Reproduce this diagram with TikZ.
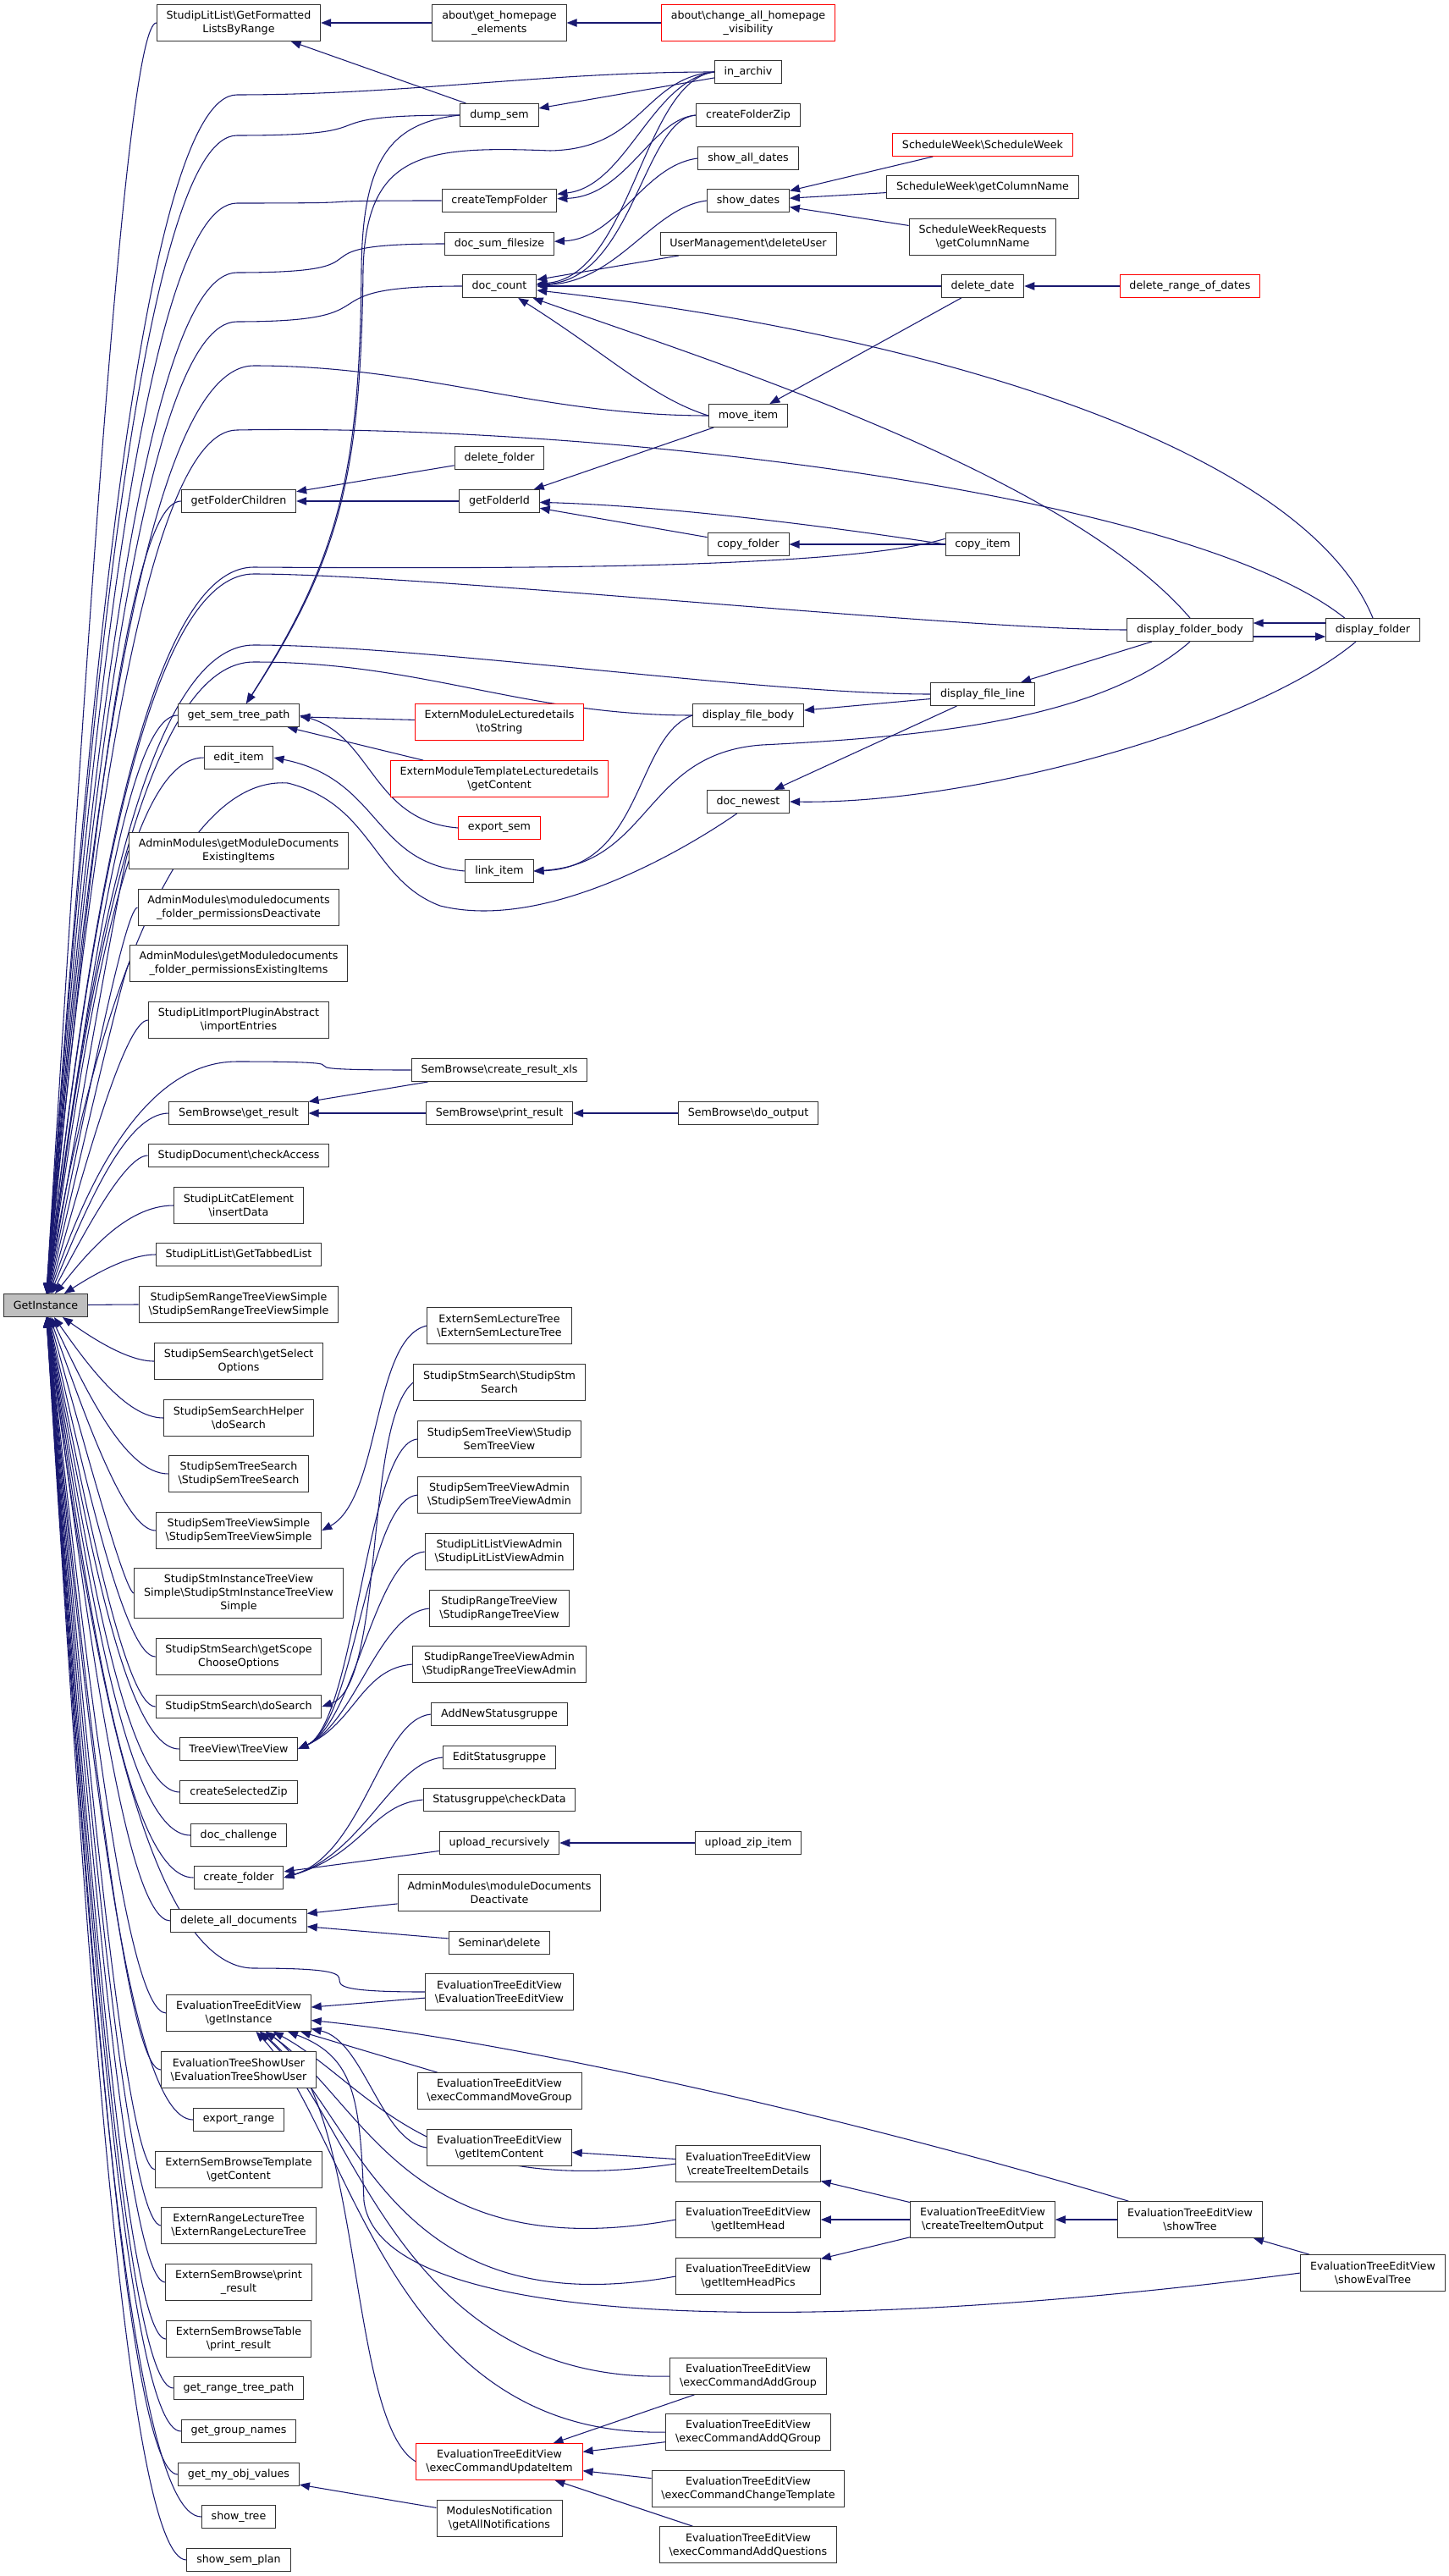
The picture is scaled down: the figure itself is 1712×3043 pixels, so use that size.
\documentclass[tikz,border=0pt]{standalone}
\usepackage{fontspec}
\setmainfont{DejaVu Sans}
\usetikzlibrary{arrows.meta,calc}
\pgfdeclarelayer{bg}
\pgfsetlayers{bg,main}
\definecolor{edgeblue}{HTML}{191970}
\definecolor{boxgray}{HTML}{BFBFBF}
\definecolor{boxline}{HTML}{333333}
\newcommand{\bk}{\textbackslash}
\tikzset{every picture/.style={line width=0.75pt}}
\tikzset{
  fn/.style={draw=boxline, fill=white, align=center, inner xsep=8.5pt, inner ysep=1pt,
    minimum height=20.25pt, font=\fontsize{9.5}{12}\selectfont},
  fnii/.style={fn, minimum height=32pt},
  fniii/.style={fn, minimum height=44.25pt},
  hot/.style={draw=red},
  call/.style={draw=edgeblue, line width=0.8pt, -{Triangle[length=9pt,width=7pt]}, edgeblue}
}

\begin{document}
\begin{tikzpicture}[x=0.75pt,y=0.75pt,yscale=-1,xscale=1]
\useasboundingbox (0,0) rectangle (1712,3043);
\coordinate (bx) at (148,0);

% GetInstance
\node[fn, fill=boxgray] (gi) at (54,1542) {GetInstance};

% Column 1
\node[fnii] (litfmt) at (282,27) {StudipLitList\bk GetFormatted\\ListsByRange};
\node[fn] (folderchildren) at (282,592) {getFolderChildren};
\node[fn] (semtreepath) at (282,845) {get\_sem\_tree\_path};
\node[fn] (edititem) at (282,895) {edit\_item};
\node[fnii] (amdocexist) at (282,1005) {AdminModules\bk getModuleDocuments\\ExistingItems};
\node[fnii] (amfolderdeact) at (282,1072) {AdminModules\bk moduledocuments\\\_folder\_permissionsDeactivate};
\node[fnii] (amfolderexist) at (282,1138) {AdminModules\bk getModuledocuments\\\_folder\_permissionsExistingItems};
\node[fnii] (litimport) at (282,1205) {StudipLitImportPluginAbstract\\\bk importEntries};
\node[fn] (getresult) at (282,1315) {SemBrowse\bk get\_result};
\node[fn] (checkaccess) at (282,1365) {StudipDocument\bk checkAccess};
\node[fnii] (litcat) at (282,1424) {StudipLitCatElement\\\bk insertData};
\node[fn] (littabbed) at (282,1482) {StudipLitList\bk GetTabbedList};
\node[fnii] (rangesimple) at (282,1541) {StudipSemRangeTreeViewSimple\\\bk StudipSemRangeTreeViewSimple};
\node[fnii] (selectopt) at (282,1608) {StudipSemSearch\bk getSelect\\Options};
\node[fnii] (searchhelper) at (282,1675) {StudipSemSearchHelper\\\bk doSearch};
\node[fnii] (treesearch) at (282,1741) {StudipSemTreeSearch\\\bk StudipSemTreeSearch};
\node[fnii] (treesimple) at (282,1808) {StudipSemTreeViewSimple\\\bk StudipSemTreeViewSimple};
\node[fniii] (stminstance) at (282,1882) {StudipStmInstanceTreeView\\Simple\bk StudipStmInstanceTreeView\\Simple};
\node[fnii] (scopeopt) at (282,1957) {StudipStmSearch\bk getScope\\ChooseOptions};
\node[fn] (stmdosearch) at (282,2016) {StudipStmSearch\bk doSearch};
\node[fn] (treeview) at (282,2066) {TreeView\bk TreeView};
\node[fn] (selzip) at (282,2117) {createSelectedZip};
\node[fn] (docchallenge) at (282,2168) {doc\_challenge};
\node[fn] (createfolder) at (282,2218) {create\_folder};
\node[fn] (delalldocs) at (282,2269) {delete\_all\_documents};
\node[fnii] (evalinst) at (282,2378) {EvaluationTreeEditView\\\bk getInstance};
\node[fnii] (evalshowuser) at (282,2445) {EvaluationTreeShowUser\\\bk EvaluationTreeShowUser};
\node[fn] (exportrange) at (282,2504) {export\_range};
\node[fnii] (browsetpl) at (282,2563) {ExternSemBrowseTemplate\\\bk getContent};
\node[fnii] (rangelecture) at (282,2629) {ExternRangeLectureTree\\\bk ExternRangeLectureTree};
\node[fnii] (browseprint) at (282,2696) {ExternSemBrowse\bk print\\\_result};
\node[fnii] (browsetable) at (282,2763) {ExternSemBrowseTable\\\bk print\_result};
\node[fn] (rangetreepath) at (282,2821) {get\_range\_tree\_path};
\node[fn] (groupnames) at (282,2872) {get\_group\_names};
\node[fn] (myobjvalues) at (282,2923) {get\_my\_obj\_values};
\node[fn] (showtreefn) at (282,2973) {show\_tree};
\node[fn] (semplan) at (282,3024) {show\_sem\_plan};

% Column 2
\node[fnii] (homepage) at (590,27) {about\bk get\_homepage\\\_elements};
\node[fn] (dumpsem) at (590,136) {dump\_sem};
\node[fn] (tempfolder) at (590,237) {createTempFolder};
\node[fn] (sumfilesize) at (590,288) {doc\_sum\_filesize};
\node[fn] (doccount) at (590,338) {doc\_count};
\node[fn] (deletefolder) at (590,541) {delete\_folder};
\node[fn] (folderid) at (590,592) {getFolderId};
\node[fnii, hot] (lecturestring) at (590,853) {ExternModuleLecturedetails\\\bk toString};
\node[fnii, hot] (templatecontent) at (590,920) {ExternModuleTemplateLecturedetails\\\bk getContent};
\node[fn, hot] (exportsem) at (590,978) {export\_sem};
\node[fn] (linkitem) at (590,1029) {link\_item};
\node[fn] (resultxls) at (590,1264) {SemBrowse\bk create\_result\_xls};
\node[fn] (printresult) at (590,1315) {SemBrowse\bk print\_result};
\node[fnii] (lecturetree) at (590,1566) {ExternSemLectureTree\\\bk ExternSemLectureTree};
\node[fnii] (stmsearch) at (590,1633) {StudipStmSearch\bk StudipStm\\Search};
\node[fnii] (semtreeview) at (590,1700) {StudipSemTreeView\bk Studip\\SemTreeView};
\node[fnii] (semtreeadmin) at (590,1766) {StudipSemTreeViewAdmin\\\bk StudipSemTreeViewAdmin};
\node[fnii] (litlistadmin) at (590,1833) {StudipLitListViewAdmin\\\bk StudipLitListViewAdmin};
\node[fnii] (rangetreeview) at (590,1900) {StudipRangeTreeView\\\bk StudipRangeTreeView};
\node[fnii] (rangetreeadmin) at (590,1966) {StudipRangeTreeViewAdmin\\\bk StudipRangeTreeViewAdmin};
\node[fn] (addstatus) at (590,2025) {AddNewStatusgruppe};
\node[fn] (editstatus) at (590,2076) {EditStatusgruppe};
\node[fn] (checkdata) at (590,2126) {Statusgruppe\bk checkData};
\node[fn] (uploadrec) at (590,2177) {upload\_recursively};
\node[fnii] (moddocdeact) at (590,2236) {AdminModules\bk moduleDocuments\\Deactivate};
\node[fn] (seminardel) at (590,2295) {Seminar\bk delete};
\node[fnii] (evalctor) at (590,2353) {EvaluationTreeEditView\\\bk EvaluationTreeEditView};
\node[fnii] (movegroup) at (590,2470) {EvaluationTreeEditView\\\bk execCommandMoveGroup};
\node[fnii] (itemcontent) at (590,2537) {EvaluationTreeEditView\\\bk getItemContent};
\node[fnii, hot] (updateitem) at (590,2908) {EvaluationTreeEditView\\\bk execCommandUpdateItem};
\node[fnii] (notifications) at (590,2975) {ModulesNotification\\\bk getAllNotifications};

% Column 3
\node[fnii, hot] (changevis) at (884,27) {about\bk change\_all\_homepage\\\_visibility};
\node[fn] (inarchiv) at (884,85) {in\_archiv};
\node[fn] (folderzip) at (884,136) {createFolderZip};
\node[fn] (alldates) at (884,187) {show\_all\_dates};
\node[fn] (showdates) at (884,237) {show\_dates};
\node[fn] (deleteuser) at (884,288) {UserManagement\bk deleteUser};
\node[fn] (moveitem) at (884,491) {move\_item};
\node[fn] (copyfolder) at (884,643) {copy\_folder};
\node[fn] (filebody) at (884,845) {display\_file\_body};
\node[fn] (docnewest) at (884,947) {doc\_newest};
\node[fn] (dooutput) at (884,1315) {SemBrowse\bk do\_output};
\node[fn] (zipitem) at (884,2177) {upload\_zip\_item};
\node[fnii] (itemdetails) at (884,2556) {EvaluationTreeEditView\\\bk createTreeItemDetails};
\node[fnii] (itemhead) at (884,2622) {EvaluationTreeEditView\\\bk getItemHead};
\node[fnii] (itemheadpics) at (884,2689) {EvaluationTreeEditView\\\bk getItemHeadPics};
\node[fnii] (addgroup) at (884,2807) {EvaluationTreeEditView\\\bk execCommandAddGroup};
\node[fnii] (addqgroup) at (884,2873) {EvaluationTreeEditView\\\bk execCommandAddQGroup};
\node[fnii] (changetpl) at (884,2940) {EvaluationTreeEditView\\\bk execCommandChangeTemplate};
\node[fnii] (addquestions) at (884,3006) {EvaluationTreeEditView\\\bk execCommandAddQuestions};

% Column 4
\node[fn, hot] (schedweek) at (1161,171) {ScheduleWeek\bk ScheduleWeek};
\node[fn] (colname) at (1161,221) {ScheduleWeek\bk getColumnName};
\node[fnii] (reqcolname) at (1161,280) {ScheduleWeekRequests\\\bk getColumnName};
\node[fn] (deletedate) at (1161,338) {delete\_date};
\node[fn] (copyitem) at (1161,643) {copy\_item};
\node[fn] (fileline) at (1161,820) {display\_file\_line};
\node[fnii] (itemoutput) at (1161,2622) {EvaluationTreeEditView\\\bk createTreeItemOutput};

% Column 5 and 6
\node[fn, hot] (rangedates) at (1406,338) {delete\_range\_of\_dates};
\node[fn] (folderbody) at (1406,744) {display\_folder\_body};
\node[fnii] (showtree) at (1406,2622) {EvaluationTreeEditView\\\bk showTree};
\node[fn] (displayfolder) at (1622,744) {display\_folder};
\node[fnii] (evaltree) at (1622,2685) {EvaluationTreeEditView\\\bk showEvalTree};

\begin{pgfonlayer}{bg}
% calls of GetInstance from column 1
\foreach \n in {litfmt,folderchildren,semtreepath,edititem,amdocexist,
  amfolderdeact,amfolderexist,litimport,getresult,checkaccess,litcat,littabbed,rangesimple,
  selectopt,searchhelper,treesearch,treesimple,stminstance,scopeopt,stmdosearch,treeview,selzip,
  docchallenge,createfolder,delalldocs,evalinst,evalshowuser,exportrange,browsetpl,
  rangelecture,browseprint,browsetable,rangetreepath,groupnames,myobjvalues,showtreefn,semplan}
  \draw[call] (\n) .. controls (\n.west -| bx) and ($(gi)!0.5!(\n.west -| bx)$) .. (gi);

% calls of GetInstance from further right, through the gaps of column 1
\foreach \n/\wx/\wy in {inarchiv/280/112,dumpsem/280/160,tempfolder/280/240,sumfilesize/280/322,
  doccount/280/380,moveitem/300/432,folderbody/300/678,fileline/300/762,filebody/300/782,
  resultxls/280/1254,evalctor/300/2325}
  \draw[call] (\n.west) .. controls ($(\n.west)+(-200,0)$) and ({\wx+200},\wy) .. (\wx,\wy)
    .. controls (170,\wy) and ($(gi)!0.5!(150,\wy)$) .. (gi);
\draw[call] ([xshift=-25pt]displayfolder.north) .. controls (1400,580) and (700,500) .. (280,508)
  .. controls (170,508) and ($(gi)!0.5!(150,508)$) .. (gi);
\draw[call] ([yshift=-5pt]copyitem.west) .. controls (1000,672) and (600,672) .. (300,670)
  .. controls (170,670) and ($(gi)!0.5!(150,670)$) .. (gi);
\draw[call] ([xshift=-10pt]docnewest.south) .. controls (800,1010) and (640,1100) .. (520,1070)
  .. controls (440,1040) and (440,950) .. (340,925) .. controls (200,915) and ($(gi)!0.5!(150,925)$) .. (gi);

% straight calls
\draw[call] (homepage) -- (litfmt);
\draw[call] (changevis) -- (homepage);
\draw[call] (dumpsem) -- (litfmt);
\draw[call] (inarchiv) -- (dumpsem);
\draw[call] (deleteuser) -- (doccount);
\draw[call] (deletedate) -- (doccount);
\draw[call] (rangedates) -- (deletedate);
\draw[call] (schedweek) -- (showdates);
\draw[call] (colname) -- (showdates);
\draw[call] (reqcolname) -- (showdates);
\draw[call] (deletedate) -- (moveitem);
\draw[call] (moveitem) -- (folderid);
\draw[call] (copyfolder) -- (folderid);
\draw[call] (copyitem) -- (copyfolder);
\draw[call] (folderid) -- (folderchildren);
\draw[call] (deletefolder) -- (folderchildren);
\draw[call] (folderbody) -- (fileline);
\draw[call] (fileline) -- (filebody);
\draw[call] (fileline) -- (docnewest);
\draw[call] (lecturestring) -- (semtreepath);
\draw[call] (templatecontent) -- (semtreepath);
\draw[call] (resultxls) -- (getresult);
\draw[call] (printresult) -- (getresult);
\draw[call] (dooutput) -- (printresult);
\draw[call] (zipitem) -- (uploadrec);
\draw[call] (uploadrec) -- (createfolder);
\draw[call] (moddocdeact) -- (delalldocs);
\draw[call] (seminardel) -- (delalldocs);
\draw[call] (evalctor) -- (evalinst);
\draw[call] (movegroup) -- (evalinst);
\draw[call] (itemdetails) -- (itemcontent);
\draw[call] (itemoutput) -- (itemdetails);
\draw[call] (itemoutput) -- (itemhead);
\draw[call] (itemoutput) -- (itemheadpics);
\draw[call] (showtree) -- (itemoutput);
\draw[call] (evaltree) -- (showtree);
\draw[call] (addgroup) -- (updateitem);
\draw[call] (addqgroup) -- (updateitem);
\draw[call] (changetpl) -- (updateitem);
\draw[call] (addquestions) -- (updateitem);
\draw[call] (notifications) -- (myobjvalues);
\draw[call] ([yshift=6pt]folderbody.east) -- ([yshift=6pt]displayfolder.west);
\draw[call] ([yshift=-6pt]displayfolder.west) -- ([yshift=-6pt]folderbody.east);

% curved calls, top part
\draw[call] (inarchiv.west) .. controls (770,95) and (740,220) .. (tempfolder);
\draw[call] (folderzip.west) .. controls (770,140) and (740,232) .. (tempfolder);
\draw[call] (inarchiv.west) .. controls (760,95) and (745,328) .. (doccount);
\draw[call] (folderzip.west) .. controls (760,140) and (748,331) .. (doccount);
\draw[call] (showdates.west) .. controls (770,245) and (730,334) .. (doccount);
\draw[call] (alldates.west) .. controls (760,195) and (730,282) .. (sumfilesize);
\draw[call] (moveitem.west) .. controls (770,470) and (720,420) .. (doccount);
\draw[call] (folderbody.north) .. controls (1260,560) and (850,430) .. (doccount);
\draw[call] (displayfolder.north) .. controls (1540,530) and (1100,395) .. (doccount);
\draw[call] (copyitem.west) .. controls (1000,625) and (800,598) .. (folderid);
\draw[call] (dumpsem.west) .. controls (460,145) and (428,190) .. (427,320)
  .. controls (425,560) and (400,660) .. (semtreepath);
\draw[call] (inarchiv.west) .. controls (760,92) and (760,176) .. (650,178)
  .. controls (500,172) and (432,180) .. (429,320) .. controls (426,560) and (402,660) .. (semtreepath);

% curved calls, middle part
\draw[call] ([xshift=-15pt]displayfolder.south) .. controls (1480,860) and (1150,950) .. (docnewest.east);
\draw[call] (filebody.west) .. controls (750,870) and (760,1025) .. (linkitem.east);
\draw[call] (folderbody.south) .. controls (1300,850) and (1100,870) .. (900,880)
  .. controls (760,890) and (770,1020) .. (linkitem.east);
\draw[call] (linkitem.west) .. controls (440,1020) and (450,920) .. (edititem.east);
\draw[call] (exportsem.west) .. controls (440,970) and (440,870) .. (semtreepath.east);
\draw[call] (lecturetree.west) .. controls (440,1580) and (450,1770) .. (treesimple.east);
\draw[call] (stmsearch.west) .. controls (430,1680) and (455,1990) .. (stmdosearch.east);
\foreach \n in {semtreeview,semtreeadmin,litlistadmin,rangetreeview,rangetreeadmin}
  \draw[call] (\n.west) .. controls +(-60,5) and (420,2035) .. (treeview.east);
\foreach \n in {addstatus,editstatus,checkdata}
  \draw[call] (\n.west) .. controls +(-60,5) and (430,2190) .. (createfolder.east);

% curved calls, evaluation part
\draw[call] (showtree) .. controls (1000,2500) and (600,2410) .. (evalinst);
\draw[call] (itemcontent.west) .. controls (450,2530) and (430,2410) .. (evalinst);
\draw[call] (itemdetails.west) .. controls (500,2600) and (435,2460) .. (evalinst);
\draw[call] (itemhead.west) .. controls (480,2680) and (430,2480) .. (evalinst);
\draw[call] (itemheadpics.west) .. controls (460,2750) and (425,2500) .. (evalinst);
\draw[call] (evaltree.west) .. controls (1000,2755) and (450,2760) .. (430,2600)
  .. controls (425,2480) and (420,2430) .. (evalinst);
\draw[call] (addgroup.west) .. controls (470,2815) and (420,2500) .. (evalinst);
\draw[call] (addqgroup.west) .. controls (460,2880) and (415,2520) .. (evalinst);
\draw[call] (updateitem.west) .. controls (410,2860) and (430,2480) .. (evalinst);
\end{pgfonlayer}

\end{tikzpicture}
\end{document}
